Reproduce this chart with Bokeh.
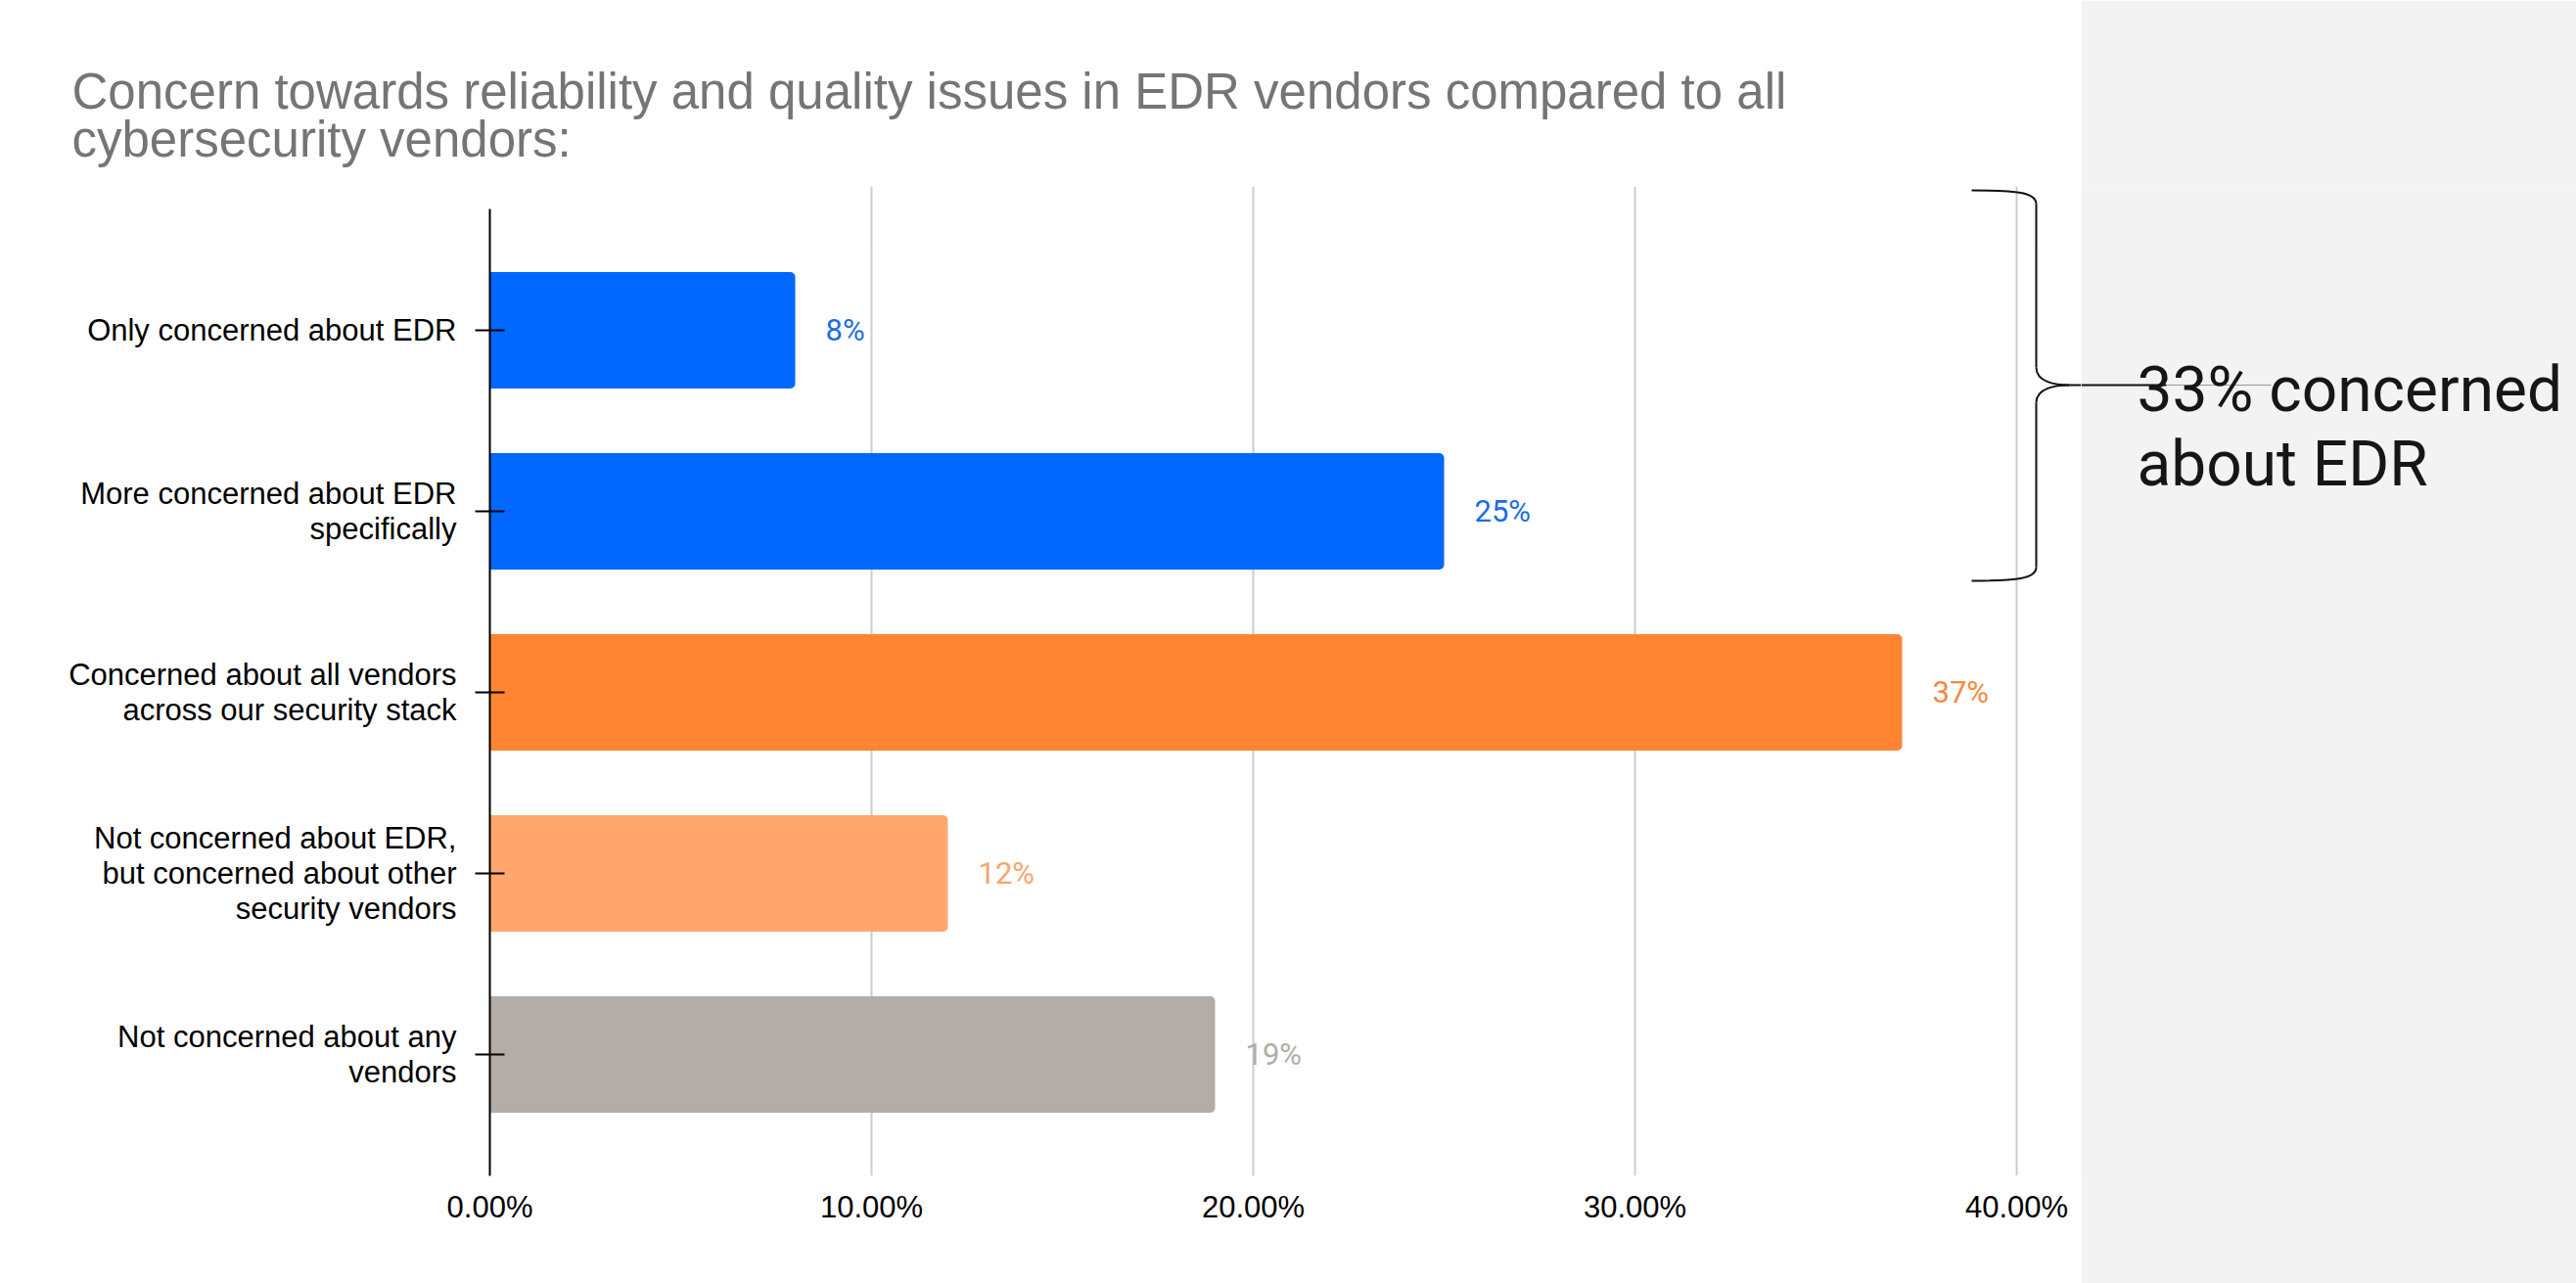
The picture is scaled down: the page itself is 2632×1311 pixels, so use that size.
from bokeh.plotting import figure
from bokeh.models import Range1d, FixedTicker, PrintfTickFormatter, Title, ColumnDataSource
from bokeh.layouts import row
from bokeh.embed import file_html
from bokeh.resources import INLINE
from bokeh.core.properties import value

# ---------------- data ----------------
title_lines = [
    "Concern towards reliability and quality issues in EDR vendors compared to all",
    "cybersecurity vendors:",
]
categories = [
    "Only concerned about EDR",
    "More concerned about EDR\nspecifically",
    "Concerned about all vendors\nacross our security stack",
    "Not concerned about EDR,\nbut concerned about other\nsecurity vendors",
    "Not concerned about any\nvendors",
]
values = [8, 25, 37, 12, 19]
bar_colors = ["#0068ff", "#0068ff", "#ff8533", "#ffa76f", "#b3aca7"]
label_colors = ["#1a6ce8", "#1a6ce8", "#f5893d", "#f7a56e", "#b3aca7"]
x_ticks = [0, 10, 20, 30, 40]
bracket_group = [0, 1]  # categories covered by the bracket
callout_text = ["%d%% concerned" % sum(values[i] for i in bracket_group), "about EDR"]

# ---------------- layout constants (page pixels) ----------------
FONT = "Liberation Sans"
W_MAIN, W_SIDE, H = 2126, 506, 1311
FRAME_L, FRAME_T, FRAME_B = 500, 190, 1201
PX_PER_X = 39.0          # px per percentage point
PITCH = 185.0            # px per category
TOP_CENTER = 337.0       # y of first category centre
n = len(categories)
ypos = [n - 1 - i for i in range(n)]


def xd(px):  # px -> data x
    return (px - FRAME_L) / PX_PER_X


def yd(py):  # px -> data y
    return (n - 1) + (TOP_CENTER - py) / PITCH


x_end = xd(W_MAIN)
y_start, y_end = yd(FRAME_B), yd(FRAME_T)

src = ColumnDataSource(dict(
    y=ypos, v=values, color=bar_colors, lcolor=label_colors,
    lbl=["%d%%" % v for v in values],
))

p = figure(width=W_MAIN, height=H, x_range=Range1d(0, x_end), y_range=Range1d(y_start, y_end),
           output_backend="svg", toolbar_location=None, title=None,
           min_border_left=FRAME_L, min_border_right=0, min_border_top=FRAME_T,
           min_border_bottom=H - FRAME_B)
p.outline_line_color = None
p.background_fill_color = "white"
p.border_fill_color = "white"

p.hbar(y="y", left=0, right="v", height=119 / PITCH, fill_color="color", line_color=None,
       border_radius=(0, 5, 5, 0), source=src)
p.text(x="v", y="y", text="lbl", x_offset=31, text_baseline="middle", text_align="left",
       text_color="lcolor", text_font=value("Roboto"), text_font_size="31px", source=src)

# x axis
p.xaxis.ticker = FixedTicker(ticks=x_ticks)
p.xaxis.formatter = PrintfTickFormatter(format="%.2f%%")
p.xaxis.axis_line_color = None
p.xaxis.major_tick_line_color = None
p.xaxis.minor_tick_line_color = None
p.xaxis.major_label_text_font = FONT
p.xaxis.major_label_text_font_size = "31px"
p.xaxis.major_label_text_color = "#000000"
p.xaxis.major_label_standoff = 8
p.xgrid.ticker = FixedTicker(ticks=x_ticks)
p.xgrid.grid_line_color = "#cccccc"
p.xgrid.grid_line_width = 2
p.ygrid.visible = False

# y axis
p.yaxis.ticker = FixedTicker(ticks=ypos)
p.yaxis.major_label_overrides = {y: c for y, c in zip(ypos, categories)}
p.yaxis.axis_line_color = "#000000"
p.yaxis.axis_line_width = 2
p.yaxis.major_tick_in = 15
p.yaxis.major_tick_out = 15
p.yaxis.major_tick_line_width = 2
p.yaxis.major_tick_line_color = "#000000"
p.yaxis.minor_tick_line_color = None
p.yaxis.bounds = (y_start, yd(213))
p.yaxis.major_label_text_font = FONT
p.yaxis.major_label_text_font_size = "31px"
p.yaxis.major_label_text_color = "#000000"
p.yaxis.major_label_text_line_height = 1.02
p.yaxis.major_label_standoff = 19

# title
p.add_layout(Title(text="\n".join(title_lines), align="left", offset=73 - FRAME_L,
                   text_font=FONT, text_font_size="51px", text_font_style="normal",
                   text_color="#757575", text_line_height=0.86, standoff=38), "above")

# bracket (main figure)
bx0, bx1, btip = 2014, 2080, 2114
top, mid, bot = 194, 393, 593
bez = dict(
    x0=[xd(bx0), xd(bx1), xd(btip), xd(bx1)],
    y0=[yd(top), yd(mid - 18), yd(mid), yd(bot - 14)],
    x1=[xd(bx1), xd(btip), xd(bx1), xd(bx0)],
    y1=[yd(top + 14), yd(mid), yd(mid + 18), yd(bot)],
    cx0=[xd(2060), xd(bx1), xd(2100), xd(bx1)],
    cy0=[yd(top), yd(mid - 3), yd(mid), yd(bot - 2)],
    cx1=[xd(bx1), xd(2100), xd(bx1), xd(2060)],
    cy1=[yd(top + 2), yd(mid), yd(mid + 3), yd(bot)],
)
p.bezier(line_color="#111111", line_width=2, **bez)
p.segment(x0=[xd(bx1), xd(bx1), xd(btip)], y0=[yd(top + 14), yd(mid + 18), yd(mid)],
          x1=[xd(bx1), xd(bx1), x_end], y1=[yd(mid - 18), yd(bot - 14), yd(mid)],
          line_color="#111111", line_width=2)

# side panel (its frame is aligned with the main frame vertically)
s = figure(width=W_SIDE, height=H, x_range=Range1d(W_MAIN, W_MAIN + W_SIDE),
           y_range=Range1d(FRAME_B, FRAME_T), title=None,
           output_backend="svg", toolbar_location=None, min_border=0)
s.axis.visible = False
s.grid.visible = False
s.outline_line_color = None
s.background_fill_color = "#f3f3f3"
s.border_fill_color = "#f3f3f3"
s.segment(x0=[W_MAIN, 2213], y0=[mid, mid], x1=[2213, 2320], y1=[mid, mid],
          line_color=["#111111", "#999999"], line_width=[2, 1.2])
s.text(x=[2183, 2183], y=[398, 474], text=callout_text, text_font=value("Roboto"),
       text_font_size="64px", text_color="#161616", text_baseline="alphabetic", text_align="left")

layout = row(p, s, spacing=0)
open("out.html", "w").write(file_html(layout, INLINE))
